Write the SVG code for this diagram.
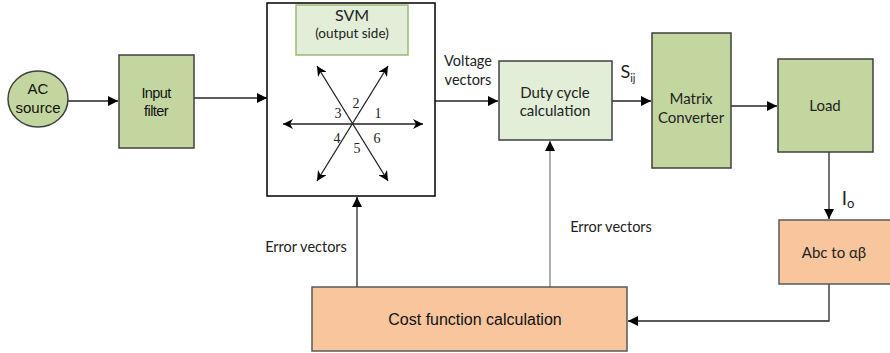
<svg xmlns="http://www.w3.org/2000/svg" width="890" height="353" viewBox="0 0 890 353">
<defs>
<style>
.g{fill:#c4d69f;stroke:#404040;stroke-width:1.5}
.lg{fill:#e2eed8;stroke:#404040;stroke-width:1.5}
.sv{fill:#e2eed8;stroke:#9bb87a;stroke-width:1.5}
.pe{fill:#f8c59c;stroke:#595959;stroke-width:1.5}
.wb{fill:#fff;stroke:#000;stroke-width:1.5}
.ln{fill:none;stroke:#262626;stroke-width:1.3}
.ar{fill:none;stroke:#262626;stroke-width:1.3;marker-end:url(#ah)}
.hx{fill:none;stroke:#222;stroke-width:1.3;marker-start:url(#sh);marker-end:url(#sh)}
.a{font-family:"Liberation Sans",Arial,sans-serif;fill:#111;text-anchor:middle}
.c{font-family:Lato,"Open Sans",sans-serif;fill:#222;text-anchor:middle}
.s{font-family:"Liberation Serif","Times New Roman",serif;fill:#222;font-size:14px;text-anchor:middle}
</style>
<marker id="ah" viewBox="0 0 10 10" refX="10" refY="5" markerWidth="10" markerHeight="10" markerUnits="userSpaceOnUse" orient="auto">
<path d="M0,0 L10,5 L0,10 z" fill="#000"/>
</marker>
<marker id="sh" viewBox="0 0 10 10" refX="10" refY="5" markerWidth="10" markerHeight="10" markerUnits="userSpaceOnUse" orient="auto-start-reverse">
<path d="M0,0 L10,5 L0,10 L3,5 z" fill="#000"/>
</marker>
</defs>
<rect width="890" height="353" fill="#fff"/>

<g id="connectors">
<path class="ar" d="M68,101 H118"/>
<path class="ar" d="M194,98 H267"/>
<path class="ar" d="M435,101 H498"/>
<path class="ar" d="M612,101 H651"/>
<path class="ar" d="M731,106 H777"/>
<path class="ar" d="M829,152 V219"/>
<path class="ar" d="M829,284 V321 H628"/>
<path class="ar" d="M357,287 V197"/>
<path class="ar" d="M550,287 V141" style="stroke:#808080"/>
</g>

<g id="ac-source">
<ellipse cx="38" cy="99" rx="30" ry="28" class="g"/>
<text class="a" x="38" y="94" font-size="15">AC</text>
<text class="a" x="38" y="113" font-size="15">source</text>
</g>

<g id="input-filter">
<rect x="119" y="55" width="75" height="93" class="g"/>
<text class="a" x="156" y="98" font-size="14.5" letter-spacing="-0.6">Input</text>
<text class="a" x="156" y="116" font-size="14.5" letter-spacing="-0.6">filter</text>
</g>

<g id="svm">
<rect x="267" y="3" width="168" height="193" class="wb"/>
<rect x="296" y="5" width="112" height="50" class="sv"/>
<text class="c" x="352" y="21" font-size="16">SVM</text>
<text class="c" x="352" y="38" font-size="13.5">(output side)</text>
<path class="hx" d="M283,124 H423"/>
<path class="hx" d="M317,181 L388,66"/>
<path class="hx" d="M317,66 L388,181"/>
<text class="s" x="356" y="108">2</text>
<text class="s" x="378" y="118">1</text>
<text class="s" x="338" y="118">3</text>
<text class="s" x="337" y="143">4</text>
<text class="s" x="357" y="153">5</text>
<text class="s" x="377" y="143">6</text>
</g>

<g id="voltage-label">
<text class="c" x="468" y="66" font-size="14.5">Voltage</text>
<text class="c" x="468" y="85" font-size="14.5">vectors</text>
</g>

<g id="duty-cycle">
<rect x="499" y="61" width="113" height="79" class="lg"/>
<text class="c" x="555" y="98" font-size="15">Duty cycle</text>
<text class="c" x="555" y="116" font-size="15">calculation</text>
</g>

<g id="sij-label">
<text class="c" x="628" y="78" font-size="18" text-anchor="start">S<tspan font-size="11" dy="4">ij</tspan></text>
</g>

<g id="matrix-converter">
<rect x="652" y="33" width="79" height="135" class="g"/>
<text class="c" x="691" y="104" font-size="15">Matrix</text>
<text class="c" x="691" y="123" font-size="15">Converter</text>
</g>

<g id="load">
<rect x="778" y="59" width="95" height="93" class="g"/>
<text class="c" x="825" y="111" font-size="15">Load</text>
</g>

<g id="io-label">
<text class="c" x="848" y="205" font-size="19" text-anchor="start">I<tspan font-size="13" dy="3">o</tspan></text>
</g>

<g id="abc-alphabeta">
<rect x="779" y="220" width="113" height="64" class="pe"/>
<text class="c" x="834" y="258" font-size="15">Abc to αβ</text>
</g>

<g id="cost-function">
<rect x="312" y="287" width="315" height="64" class="pe"/>
<text class="a" x="475" y="325" font-size="16">Cost function calculation</text>
</g>

<g id="error-labels">
<text class="c" x="306" y="252" font-size="14.5">Error vectors</text>
<text class="c" x="611" y="232" font-size="14.5">Error vectors</text>
</g>
</svg>
